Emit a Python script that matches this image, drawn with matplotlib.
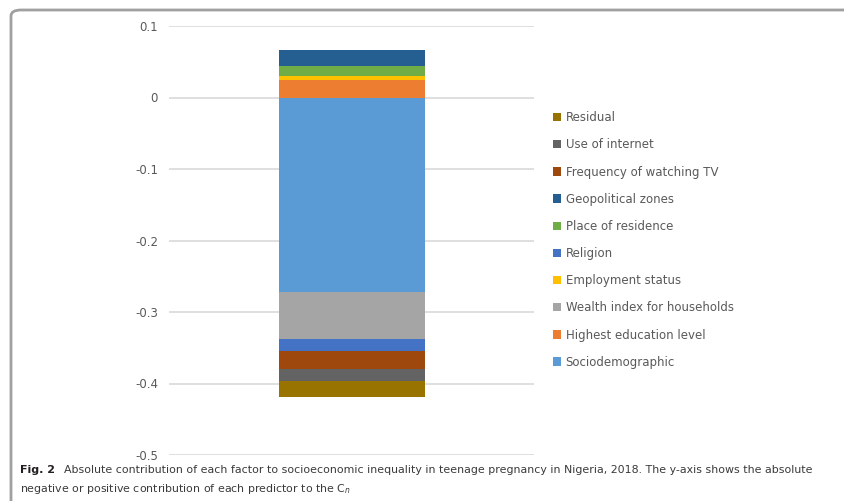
import matplotlib.pyplot as plt
from matplotlib.patches import FancyBboxPatch

# contributions of each factor to the concentration index (series order)
factors = ["Sociodemographic", "Highest education level", "Wealth index for households",
           "Employment status", "Religion", "Place of residence", "Geopolitical zones",
           "Frequency of watching TV", "Use of internet", "Residual"]
values = [-0.2715, 0.0247, -0.0665, 0.0060, -0.0167, 0.0135, 0.0223, -0.0250, -0.0167, -0.0220]
colors = ["#5B9BD5", "#ED7D31", "#A5A5A5", "#FFC000", "#4472C4", "#70AD47", "#255E91",
          "#9E480E", "#636363", "#997300"]
yticks = [0.1, 0, -0.1, -0.2, -0.3, -0.4, -0.5]

plt.rcParams['font.family'] = ['DejaVu Sans']
txt = "#595959"

fig = plt.figure(figsize=(8.44, 5.01), dpi=100)
ax = fig.add_axes([169 / 844, 1 - 455 / 501, 365 / 844, 429 / 501])

# stack positives upward and negatives downward, like a stacked column
pos, neg = 0.0, 0.0
handles = []
for name, v, c in zip(factors, values, colors):
    if v >= 0:
        b = ax.bar(0, v, width=0.4, bottom=pos, color=c, label=name, zorder=3)
        pos += v
    else:
        b = ax.bar(0, v, width=0.4, bottom=neg, color=c, label=name, zorder=3)
        neg += v
    handles.append(b)

ax.set_xlim(-0.5, 0.5)
ax.set_ylim(-0.5, 0.1)
ax.set_yticks(yticks)
ax.set_yticklabels([str(t) for t in yticks], color=txt, fontsize=8.5)
ax.set_xticks([])
ax.tick_params(axis='y', length=0, pad=8)
ax.grid(axis='y', color="#d9d9d9", linewidth=1.2, zorder=0)
for s in ax.spines.values():
    s.set_visible(False)

fig.legend(handles[::-1], factors[::-1], loc='center left',
           bbox_to_anchor=(542 / 844, 1 - 240 / 501), frameon=False,
           fontsize=8.5, labelcolor=txt, labelspacing=1.2,
           handlelength=0.7, handleheight=0.7, handletextpad=0.4)

# rounded frame around the figure panel
frame = FancyBboxPatch((11 / 844, -0.2), 1.2, 1.2 - 10 / 501,
                       boxstyle="round,pad=0,rounding_size=0.012",
                       transform=fig.transFigure, fill=False,
                       edgecolor="#a0a0a0", linewidth=2.0, clip_on=False)
fig.patches.append(frame)

cap1 = ("Absolute contribution of each factor to socioeconomic inequality in teenage pregnancy "
        "in Nigeria, 2018. The y-axis shows the absolute")
cap2 = "negative or positive contribution of each predictor to the C$_n$"
fig.text(20 / 844, 1 - 470 / 501, "Fig. 2", fontsize=8, fontweight='bold',
         color="#231f20", va='center')
fig.text(64 / 844, 1 - 470 / 501, cap1, fontsize=7.9, color="#3a3a3a", va='center')
fig.text(20 / 844, 1 - 489 / 501, cap2, fontsize=7.9, color="#3a3a3a", va='center')

fig.savefig("out.png", dpi=100)
